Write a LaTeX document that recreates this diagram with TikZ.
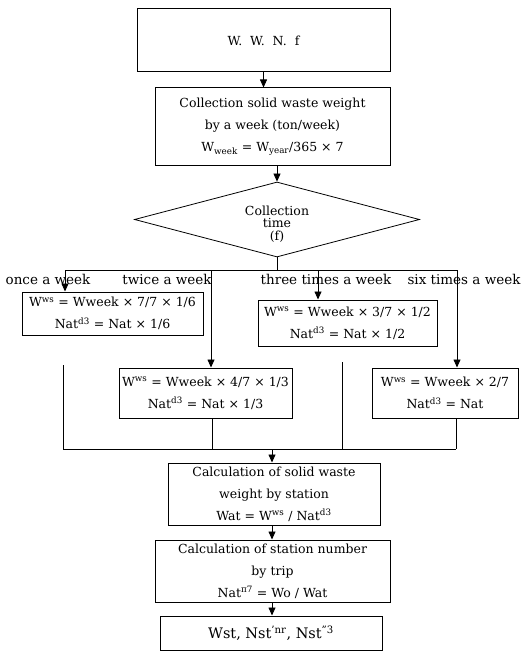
\documentclass[tikz,border=0pt]{standalone}
\usepackage{fontspec}
\setmainfont{DejaVu Serif}
\usetikzlibrary{arrows.meta,shapes.geometric}
\begin{document}
\begin{tikzpicture}[x=1pt,y=-1pt,
  every node/.style={font=\fontsize{12.5}{22}\selectfont},
  box/.style={draw,line width=1pt,inner sep=0pt,align=center},
  lab/.style={inner sep=0pt,anchor=center,font=\fontsize{13.5}{16}\selectfont},
  conn/.style={line width=0.8pt},
  arr/.style={conn,-{Triangle[length=8pt,width=7pt]}}]
\useasboundingbox (0,0) rectangle (525,652);
% boxes
\node[box,minimum width=253pt,minimum height=63pt] (top) at (263.5,40.5) {W. \ W. \ N. \ f};
\node[box,minimum width=235pt,minimum height=78pt] (wk) at (272.5,127)
  {Collection solid waste weight\\ by a week (ton/week)\\ W\textsubscript{week} = W\textsubscript{year}/365 × 7};
\node[draw,diamond,line width=0.8pt,inner sep=0pt,minimum width=285pt,minimum height=75pt] (dia) at (277,219.5) {};
\node[align=center,inner sep=0pt,font=\fontsize{12.5}{12.5}\selectfont] (diat) at (277,224) {Collection\\ time\\ (f)};
\node[box,minimum width=181pt,minimum height=43pt] (A) at (112.5,313.5)
  {W\textsuperscript{ws} = Wweek × 7/7 × 1/6\\ Nat\textsuperscript{d3} = Nat × 1/6};
\node[box,minimum width=173pt,minimum height=50pt] (B) at (205.5,393)
  {W\textsuperscript{ws} = Wweek × 4/7 × 1/3\\ Nat\textsuperscript{d3} = Nat × 1/3};
\node[box,minimum width=179pt,minimum height=46pt] (C) at (347.5,323)
  {W\textsuperscript{ws} = Wweek × 3/7 × 1/2\\ Nat\textsuperscript{d3} = Nat × 1/2};
\node[box,minimum width=146pt,minimum height=50pt] (D) at (445,393)
  {W\textsuperscript{ws} = Wweek × 2/7\\ Nat\textsuperscript{d3} = Nat};
\node[box,minimum width=212pt,minimum height=62pt] (E) at (274,494)
  {Calculation of solid waste\\ weight by station\\ Wat = W\textsuperscript{ws} / Nat\textsuperscript{d3}};
\node[box,minimum width=235pt,minimum height=62pt] (F) at (272.5,571)
  {Calculation of station number\\ by trip\\ Nat\textsuperscript{π7} = Wo / Wat};
\node[box,minimum width=222pt,minimum height=34pt,font=\fontsize{14.5}{16}\selectfont] (G) at (271,633)
  {Wst, Nst\textsuperscript{'nr}, Nst\textsuperscript{''3}};
% labels
\node[lab] (l1) at (48,279) {once a week};
\node[lab] (l2) at (167,279) {twice a week};
\node[lab] (l3) at (326,279) {three times a week};
\node[lab] (l4) at (464,279) {six times a week};
% bus coordinates
\coordinate (bj) at (277,270);
\coordinate (b1) at (65,270);
\coordinate (b2) at (211,270);
\coordinate (b3) at (318,270);
\coordinate (b4) at (457,270);
\coordinate (c1) at (63,365);
\coordinate (c3) at (342,362);
\coordinate (m1) at (63,449);
\coordinate (m2) at (212,449);
\coordinate (m3) at (342,449);
\coordinate (m4) at (456,449);
\coordinate (mj) at (272,449);
% connectors
\draw[arr] (top.south) -- (wk.north -| top.south);
\draw[arr] (wk.south -| dia.north) -- (dia.north);
\draw[conn] (dia.south) -- (bj);
\draw[conn] (b1) -- (b4);
\draw[arr] (b1) -- (A.north -| b1);
\draw[arr] (b2) -- (B.north -| b2);
\draw[arr] (b3) -- (C.north -| b3);
\draw[arr] (b4) -- (D.north -| b4);
\draw[conn] (c1) -- (m1);
\draw[conn] (B.south -| m2) -- (m2);
\draw[conn] (c3) -- (m3);
\draw[conn] (D.south -| m4) -- (m4);
\draw[conn] (m1) -- (m4);
\draw[arr] (mj) -- (E.north -| mj);
\draw[arr] (E.south -| mj) -- (F.north -| mj);
\draw[arr] (F.south -| mj) -- (G.north -| mj);
\end{tikzpicture}
\end{document}
